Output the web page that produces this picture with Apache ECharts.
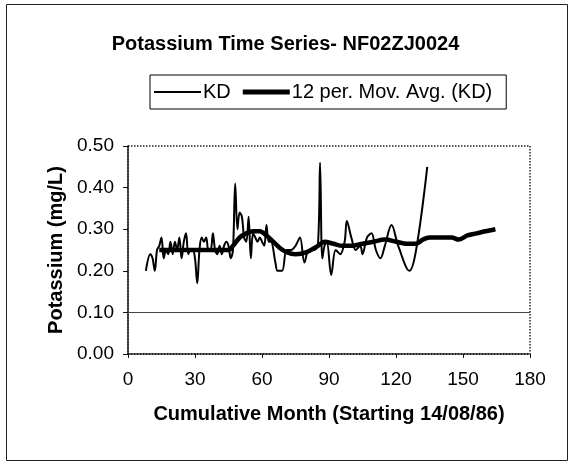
<!DOCTYPE html>
<html>
<head>
<meta charset="utf-8">
<script src="https://cdn.jsdelivr.net/npm/echarts@6/dist/echarts.min.js"></script>
<style>
html,body{margin:0;padding:0;background:#fff;}
#chart{width:571px;height:464px;}
</style>
</head>
<body>
<div id="chart"></div>
<script>
const chartTitle = 'Potassium Time Series- NF02ZJ0024';
const seriesNames = ['KD', '12 per. Mov. Avg. (KD)'];
const xTicks = [0, 30, 60, 90, 120, 150, 180];
const yTicks = [0.00, 0.10, 0.20, 0.30, 0.40, 0.50];
const guideValue = 0.10;

const kdMonth = [8,10,11,12,13,14,15,16,17,18,19,20,21,22,23,24,25,26,27,28,29,30,31,32,33,34,35,36,37,38,39,40,41,42,43,44,45,46,47,48,49,50,51,52,53,54,55,56,57,58,59,60,61,62,63,64,66,67,69,71,73,75,77,79,81,83,85,86,87,88,89,91,93,95,97,98,100,102,104,105,107,109,111,113,115,118,121,126,129,134];
const kdValue = [0.20,0.24,0.23,0.20,
0.25,0.26,0.28,0.23,0.25,0.24,0.27,0.24,0.27,0.25,
0.28,0.23,0.27,0.29,0.24,0.25,0.25,0.23,0.17,0.25,
0.28,0.27,0.28,0.25,0.25,0.29,0.25,0.24,0.26,0.24,
0.26,0.27,0.26,0.23,0.25,0.41,0.30,0.34,0.33,0.28,
0.27,0.33,0.23,0.29,0.28,0.27,0.28,0.27,0.26,0.31,
0.27,0.27,
0.22,0.20,0.20,0.25,0.25,0.26,0.28,0.22,0.25,0.25,0.26,
0.46,0.23,0.26,0.27,
0.19,0.25,0.24,0.27,0.32,0.28,0.25,0.26,0.24,0.28,0.29,0.25,0.23,0.26,0.31,0.26,0.20,0.25,0.45];

const maMonth = [14,19,25,30,35,40,45,47,50,53,56,59,62,65,68,71,75,80,85,88,92,96,100,105,110,115,120,125,129,132,135,140,145,148,152,156,160,164.5];
const maValue = [0.25,0.25,0.25,0.25,0.25,0.25,0.25,0.26,0.28,0.29,0.295,0.295,0.285,0.27,0.255,0.245,0.24,0.245,0.26,0.27,0.265,0.26,0.26,0.265,0.27,0.275,0.27,0.265,0.265,0.275,0.28,0.28,0.28,0.275,0.285,0.29,0.295,0.30];

const kdData = kdMonth.map((m, i) => [m, kdValue[i]]);
const maData = maMonth.map((m, i) => [m, maValue[i]]);

const FONT = '"Liberation Sans", Arial, sans-serif';
const chart = echarts.init(document.getElementById('chart'), null, {renderer: 'canvas'});
chart.setOption({
  animation: false,
  backgroundColor: '#fff',
  title: {
    text: chartTitle,
    left: 'center',
    top: 29,
    textStyle: {fontFamily: FONT, fontSize: 20, fontWeight: 'bold', color: '#000'}
  },
  legend: {
    left: 150,
    top: 75,
    padding: [7, 14, 7, 4],
    borderColor: '#000',
    borderWidth: 1,
    itemWidth: 47,
    itemHeight: 14,
    itemGap: 12,
    textStyle: {fontFamily: FONT, fontSize: 20, color: '#000', padding: [0, 0, 0, -3]},
    data: [
      {name: seriesNames[0], icon: 'path://M0,0 L47,0 L47,2 L0,2 Z'},
      {name: seriesNames[1], icon: 'path://M0,0 L47,0 L47,5 L0,5 Z'}
    ]
  },
  grid: {
    left: 128, right: 41, top: 146, bottom: 110,
    show: true,
    borderColor: '#222',
    borderWidth: 1.5,
    borderType: 'dotted'
  },
  xAxis: {
    type: 'value',
    min: xTicks[0], max: xTicks[xTicks.length - 1], interval: 30,
    name: 'Cumulative Month (Starting 14/08/86)',
    nameLocation: 'middle',
    nameGap: 50,
    nameTextStyle: {fontFamily: FONT, fontSize: 20, fontWeight: 'bold', color: '#000'},
    axisLine: {lineStyle: {color: '#111', width: 1.5, type: 'dotted'}},
    axisTick: {show: true, length: 4, inside: false, lineStyle: {color: '#111'}},
    axisLabel: {fontFamily: FONT, fontSize: 19, color: '#000', margin: 16},
    splitLine: {show: false}
  },
  yAxis: {
    type: 'value',
    min: yTicks[0], max: yTicks[yTicks.length - 1], interval: 0.1,
    name: 'Potassium (mg/L)',
    nameLocation: 'middle',
    nameGap: 62,
    nameTextStyle: {fontFamily: FONT, fontSize: 20, fontWeight: 'bold', color: '#000'},
    axisLine: {show: true, lineStyle: {color: '#111', width: 1.5, type: 'dotted'}},
    axisTick: {show: true, length: 5, lineStyle: {color: '#111'}},
    axisLabel: {fontFamily: FONT, fontSize: 19, color: '#000', margin: 14,
      formatter: v => v.toFixed(2)},
    splitLine: {show: false}
  },
  series: [
    {
      name: seriesNames[0],
      type: 'line',
      data: kdData,
      smooth: 0.35,
      symbol: 'none',
      lineStyle: {color: '#000', width: 2},
      itemStyle: {color: '#000'},
      markLine: {
        silent: true,
        symbol: 'none',
        label: {show: false},
        lineStyle: {color: '#444', width: 1, type: 'solid'},
        data: [{yAxis: guideValue}]
      }
    },
    {
      name: seriesNames[1],
      type: 'line',
      data: maData,
      smooth: 0.3,
      symbol: 'none',
      lineStyle: {color: '#000', width: 4.5},
      itemStyle: {color: '#000'}
    }
  ],
  graphic: [{
    type: 'rect',
    shape: {x: 6.5, y: 4.5, width: 561, height: 456},
    style: {fill: 'none', stroke: '#222', lineWidth: 1},
    silent: true,
    z: 100
  }]
});
</script>
</body>
</html>
